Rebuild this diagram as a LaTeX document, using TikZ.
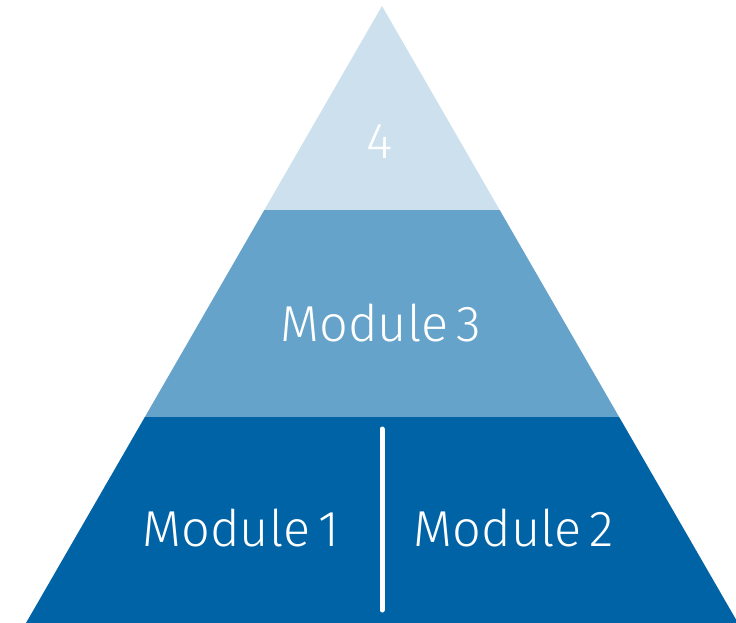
\documentclass[tikz,border=0pt]{standalone}
\usepackage{fontspec}
\setmainfont{Fira Sans}[UprightFont=* Light]
\definecolor{lightband}{HTML}{CCE0EE}
\definecolor{midband}{HTML}{66A3CA}
\definecolor{darkband}{HTML}{0063A6}
\begin{document}
\begin{tikzpicture}[x=1pt,y=-1pt,
  lbl/.style={text=white,font=\fontsize{50.5}{56}\selectfont,inner sep=0pt,anchor=center}]
\useasboundingbox (0,0) rectangle (736,623);
\coordinate (apex) at (382,6);
\coordinate (bl) at (26,623);
\coordinate (br) at (738,623);
\begin{scope}
\clip (apex) -- (bl) -- (br) -- cycle;
\fill[lightband] (0,0) rectangle (736,210);
\fill[midband] (0,210) rectangle (736,417);
\fill[darkband] (0,417) rectangle (736,623);
\end{scope}
\coordinate (d1) at (382,429);
\coordinate (d2) at (382,610);
\draw[white,line width=5pt,line cap=round] (d1) -- (d2);
\node[lbl] (m4) at (380,141) {4};
\node[lbl] (m3) at (381,323) {Module\,3};
\node[lbl] (m1) at (241,528) {Module\,1};
\node[lbl] (m2) at (514,528) {Module\,2};
\end{tikzpicture}
\end{document}
